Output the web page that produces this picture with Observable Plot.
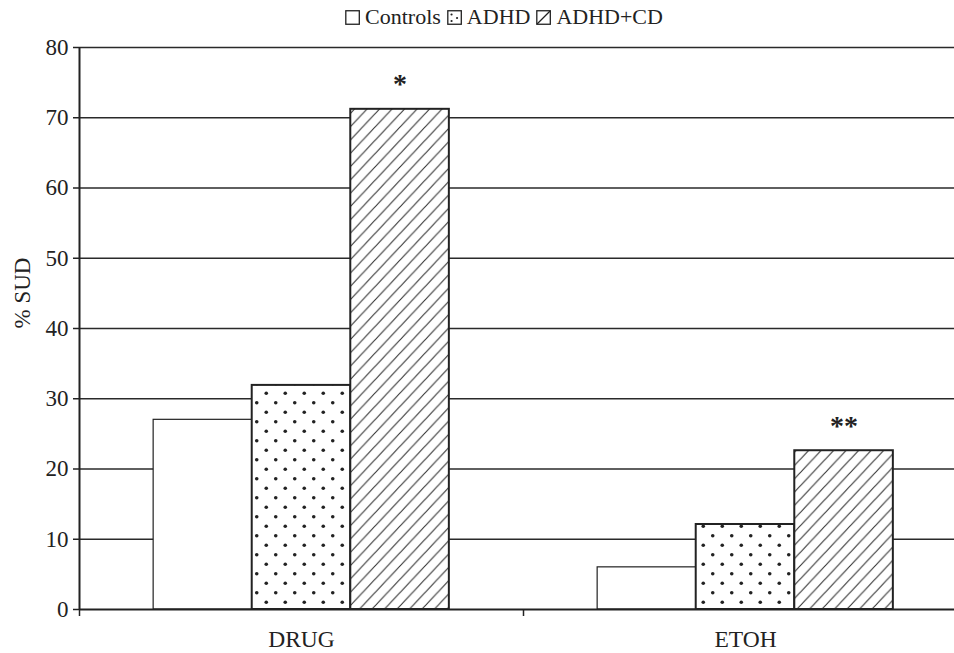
<!DOCTYPE html>
<html>
<head>
<meta charset="utf-8">
<script src="https://cdn.jsdelivr.net/npm/d3@7"></script>
<script src="https://cdn.jsdelivr.net/npm/@observablehq/plot@0.6"></script>
<style>
  html, body { margin: 0; padding: 0; background: white; overflow: hidden; }
  #wrap { position: relative; width: 954px; height: 653px; }
  #legend { position: absolute; top: 0; left: 504px; transform: translateX(-50%); height: 34px;
            display: flex; align-items: center; white-space: nowrap;
            font-family: "Liberation Serif", "Times New Roman", Times, "DejaVu Serif", serif; font-size: 22px; color: #222; }
  #legend .item { display: flex; align-items: center; margin: 0 3px; }
  #legend svg { margin-right: 5px; }
  #chart { position: absolute; top: 34px; left: 0; }
  #chart svg text { font-family: "Liberation Serif", "Times New Roman", Times, "DejaVu Serif", serif; }
  #chart svg text.star { font-family: "Liberation Sans", Arial, sans-serif; }
</style>
</head>
<body>
<div id="wrap">
  <div id="legend"></div>
  <div id="chart"></div>
</div>
<script>
// ---- data ----
const categories = ["DRUG", "ETOH"];
const groups = ["Controls", "ADHD", "ADHD+CD"];
const controls = [27.0, 6.0];
const adhd = [31.9, 12.1];
const adhdCd = [71.2, 22.6];
const yTicks = [0, 10, 20, 30, 40, 50, 60, 70, 80];
const yLabel = "% SUD";
const significance = [
  {category: "DRUG", group: "ADHD+CD", label: "*"},
  {category: "ETOH", group: "ADHD+CD", label: "**"}
];

const series = [controls, adhd, adhdCd];
const rows = [];
groups.forEach((g, gi) => categories.forEach((c, ci) => rows.push({category: c, group: g, value: series[gi][ci]})));

// ---- layout helpers (bar width as a fraction of a category band) ----
const barW = 0.222;
const offset = (1 - groups.length * barW) / 2;
const left = d => categories.indexOf(d.category) + offset + groups.indexOf(d.group) * barW;
const right = d => left(d) + barW;
const mid = d => left(d) + barW / 2;
const valueOf = d => rows.find(r => r.category === d.category && r.group === d.group).value;

const ink = "#222";
const serif = '"Liberation Serif", "Times New Roman", Times, "DejaVu Serif", serif';
const fills = ["white", "url(#dots)", "url(#hatch)"];
const strokeWidths = [1.2, 2, 2];

function defs() {
  const s = d3.create("svg:defs");
  const dots = s.append("pattern").attr("id", "dots").attr("patternUnits", "userSpaceOnUse")
    .attr("width", 19).attr("height", 19).attr("x", 5).attr("y", 3);
  dots.append("rect").attr("width", 19).attr("height", 19).attr("fill", "white");
  dots.append("circle").attr("cx", 4.75).attr("cy", 4.75).attr("r", 1.8).attr("fill", ink);
  dots.append("circle").attr("cx", 14.25).attr("cy", 14.25).attr("r", 1.8).attr("fill", ink);
  const hatch = s.append("pattern").attr("id", "hatch").attr("patternUnits", "userSpaceOnUse")
    .attr("width", 12.5).attr("height", 13.3);
  hatch.append("rect").attr("width", 12.5).attr("height", 13.3).attr("fill", "white");
  hatch.append("path").attr("d", "M-3.125,3.325L3.125,-3.325M0,13.3L12.5,0M9.375,16.625L15.625,9.975")
    .attr("stroke", "#333").attr("stroke-width", 1.1).attr("fill", "none");
  return s.node();
}

const chart = Plot.plot({
  width: 954,
  height: 619,
  marginLeft: 79,
  marginRight: 0,
  marginTop: 13,
  marginBottom: 44,
  style: {fontFamily: serif, fontSize: "22px", color: ink, background: "white"},
  x: {domain: [0, categories.length], range: [79, 79 + 444 * categories.length]},
  y: {domain: [0, 80]},
  marks: [
    defs,
    Plot.ruleY(yTicks.filter(v => v > 0), {stroke: "#2a2a2a", strokeWidth: 1.4}),
    ...groups.map((g, gi) => Plot.rectY(rows.filter(r => r.group === g), {
      x1: left, x2: right, y1: 0, y2: "value",
      fill: fills[gi], stroke: ink, strokeWidth: strokeWidths[gi]
    })),
    Plot.ruleY([0], {stroke: ink, strokeWidth: 2}),
    Plot.ruleX([0], {stroke: ink, strokeWidth: 2}),
    Plot.axisY({ticks: yTicks, tickSize: 6, tickPadding: 5, label: null, stroke: ink, strokeWidth: 1.5,
      fontSize: 23, fontFamily: serif}),
    Plot.axisX({ticks: [0, 1], tickSize: 7, tickFormat: () => "", label: null, stroke: ink, strokeWidth: 1.5}),
    Plot.axisX({ticks: categories.map((c, i) => i + 0.5), tickSize: 0, tickPadding: 21, label: null,
      tickFormat: t => categories[Math.floor(t)], fontSize: 23.5, fontFamily: serif}),
    Plot.text([yLabel], {frameAnchor: "left", rotate: -90, dx: -57, text: d => d, fontSize: 23, fontFamily: serif}),
    Plot.text(significance, {x: mid, y: valueOf, text: "label", dy: -25, fontSize: 28, fontWeight: "bold",
      className: "star", fontFamily: "Liberation Sans, Arial, sans-serif", fill: ink})
  ]
});
document.getElementById("chart").appendChild(chart);

// ---- legend ----
const legend = d3.select("#legend");
groups.forEach((g, gi) => {
  const item = legend.append("div").attr("class", "item");
  const sw = item.append("svg").attr("width", 15).attr("height", 15);
  sw.append("rect").attr("x", 0.75).attr("y", 0.75).attr("width", 13.5).attr("height", 13.5)
    .attr("fill", "white").attr("stroke", ink).attr("stroke-width", 1.3);
  if (gi === 1) {
    [[4.5, 4.5], [10, 8], [4.5, 11]].forEach(([x, y]) =>
      sw.append("circle").attr("cx", x).attr("cy", y).attr("r", 1.1).attr("fill", ink));
  }
  if (gi === 2) {
    sw.append("path").attr("d", "M1,14L14,1").attr("stroke", ink).attr("stroke-width", 1.2);
  }
  item.append("span").text(g);
});
</script>
</body>
</html>
